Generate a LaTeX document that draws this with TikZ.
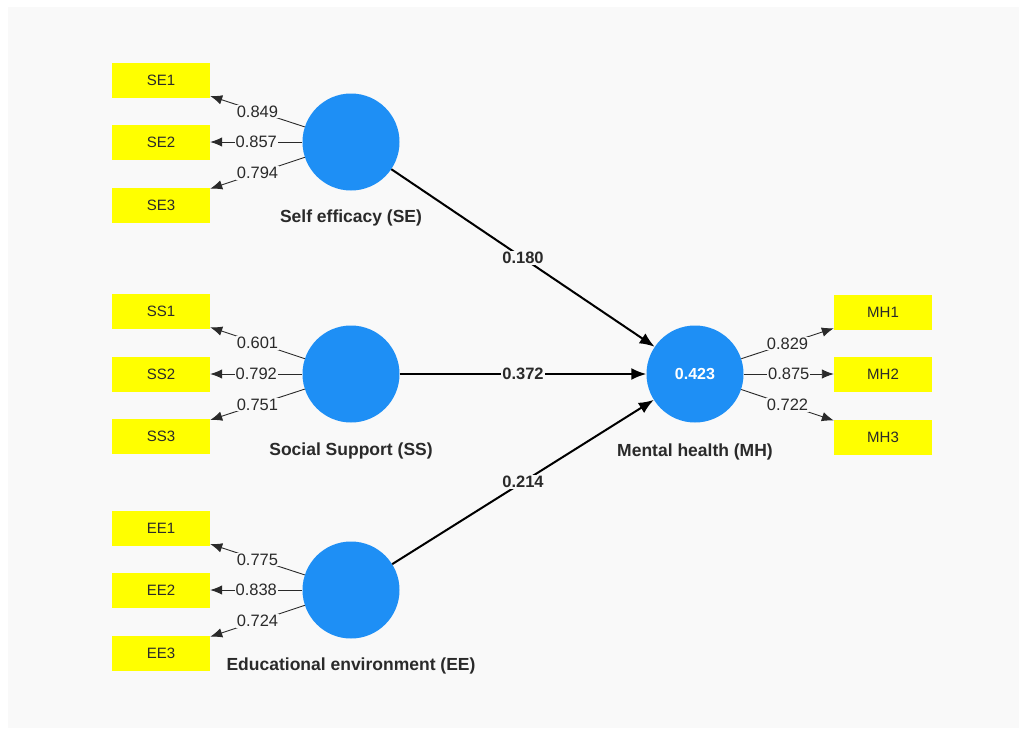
\documentclass[tikz,border=0pt]{standalone}
\usepackage{fontspec}
\setmainfont{Liberation Sans}
\usetikzlibrary{arrows.meta}
\definecolor{panel}{HTML}{F9F9F9}
\definecolor{ind}{HTML}{FFFF00}
\definecolor{lv}{HTML}{1E8FF5}
\definecolor{txt}{HTML}{2A2A2A}
\tikzset{
  indbox/.style={draw=none,fill=ind,minimum width=98pt,minimum height=35pt,inner sep=0pt,font=\fontsize{15}{15}\selectfont,text=txt},
  lvnode/.style={circle,draw=none,fill=lv,minimum size=97pt,inner sep=0pt,font=\bfseries\fontsize{16}{16}\selectfont,text=white},
  lvlabel/.style={font=\bfseries\fontsize{17.5}{17.5}\selectfont,text=txt},
  loadarrow/.style={draw=txt,line width=0.9pt,-{Latex[length=12pt,width=9.5pt]}},
  patharrow/.style={draw=black,line width=2pt,-{Latex[length=15pt,width=12pt]}},
  loadlbl/.style={fill=panel,inner sep=1pt,font=\fontsize{16.5}{16.5}\selectfont,text=txt},
  pathlbl/.style={fill=panel,inner sep=1pt,font=\bfseries\fontsize{16.5}{16.5}\selectfont,text=txt}
}
\begin{document}
\begin{tikzpicture}[x=1pt,y=-1pt]
\useasboundingbox (0,0) rectangle (1019,728);
\fill[panel] (8,7) rectangle (1019,728);
% indicators
\node[indbox] (SE1) at (161,80) {SE1};
\node[indbox] (SE2) at (161,142) {SE2};
\node[indbox] (SE3) at (161,205) {SE3};
\node[indbox] (SS1) at (161,311) {SS1};
\node[indbox] (SS2) at (161,374) {SS2};
\node[indbox] (SS3) at (161,436) {SS3};
\node[indbox] (EE1) at (161,528) {EE1};
\node[indbox] (EE2) at (161,590) {EE2};
\node[indbox] (EE3) at (161,653) {EE3};
\node[indbox] (MH1) at (883,312) {MH1};
\node[indbox] (MH2) at (883,374) {MH2};
\node[indbox] (MH3) at (883,437) {MH3};
% latent variables
\node[lvnode] (SE) at (351,142) {};
\node[lvnode] (SS) at (351,374) {};
\node[lvnode] (EE) at (351,590) {};
\node[lvnode] (MH) at (695,374) {0.423};
\node[lvlabel] (SEl) at (351,218) {Self efficacy (SE)};
\node[lvlabel] (SSl) at (351,451) {Social Support (SS)};
\node[lvlabel] (EEl) at (351,666) {Educational environment (EE)};
\node[lvlabel] (MHl) at (695,452) {Mental health (MH)};
% loadings
\draw[loadarrow] (SE) -- node[loadlbl,pos=0.5] {0.849} (SE1);
\draw[loadarrow] (SE) -- node[loadlbl,pos=0.5] {0.857} (SE2);
\draw[loadarrow] (SE) -- node[loadlbl,pos=0.5] {0.794} (SE3);
\draw[loadarrow] (SS) -- node[loadlbl,pos=0.5] {0.601} (SS1);
\draw[loadarrow] (SS) -- node[loadlbl,pos=0.5] {0.792} (SS2);
\draw[loadarrow] (SS) -- node[loadlbl,pos=0.5] {0.751} (SS3);
\draw[loadarrow] (EE) -- node[loadlbl,pos=0.5] {0.775} (EE1);
\draw[loadarrow] (EE) -- node[loadlbl,pos=0.5] {0.838} (EE2);
\draw[loadarrow] (EE) -- node[loadlbl,pos=0.5] {0.724} (EE3);
\draw[loadarrow] (MH) -- node[loadlbl,pos=0.5] {0.829} (MH1);
\draw[loadarrow] (MH) -- node[loadlbl,pos=0.5] {0.875} (MH2);
\draw[loadarrow] (MH) -- node[loadlbl,pos=0.5] {0.722} (MH3);
% paths
\draw[patharrow] (SE) -- node[pathlbl,pos=0.5] {0.180} (MH);
\draw[patharrow] (SS) -- node[pathlbl,pos=0.5] {0.372} (MH);
\draw[patharrow] (EE) -- node[pathlbl,pos=0.5] {0.214} (MH);
\end{tikzpicture}
\end{document}
